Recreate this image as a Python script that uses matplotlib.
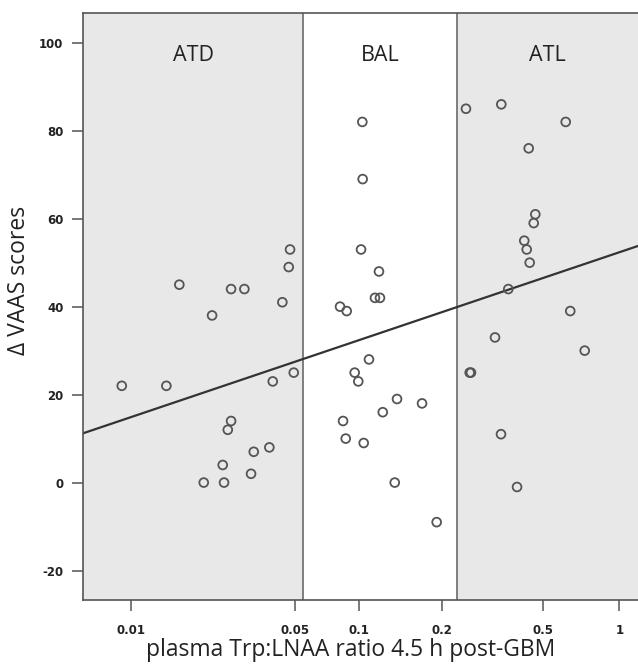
import numpy as np
import matplotlib
matplotlib.use("Agg")
import matplotlib.pyplot as plt
from matplotlib.ticker import FixedLocator, FixedFormatter, NullLocator

# Scatter of delta VAAS scores against plasma Trp:LNAA ratio (SPSS style figure)
plt.rcParams["axes.unicode_minus"] = False

# tick values on the x axis and their spacing on the original (non-uniform) log axis
tick_vals = [0.01, 0.05, 0.1, 0.2, 0.5, 1]
tick_labels = ["0.01", "0.05", "0.1", "0.2", "0.5", "1"]
tick_units = [131, 295, 359, 441.7, 543.3, 619.3]

y_ticks = [-20, 0, 20, 40, 60, 80, 100]

# group limits on the ratio axis
atd_upper = 0.0547
atl_lower = 0.229
group_names = ["ATD", "BAL", "ATL"]

# ATD group
atd_x = [0.00913, 0.01414, 0.01606, 0.02041, 0.02215, 0.02459, 0.02491, 0.02584,
         0.02669, 0.02669, 0.03041, 0.03247, 0.03334, 0.03886, 0.04018, 0.04415,
         0.04700, 0.04761, 0.04937]
atd_y = [22, 22, 45, 0, 38, 4, 0, 12, 14, 44, 44, 2, 7, 8, 23, 41, 49, 53, 25]

# BAL group
bal_x = [0.0814, 0.0841, 0.0866, 0.0875, 0.0954, 0.0992, 0.1017, 0.1028, 0.1031,
         0.1040, 0.1087, 0.1143, 0.1182, 0.1192, 0.1220, 0.1349, 0.1375, 0.1696,
         0.1917]
bal_y = [40, 14, 10, 39, 25, 23, 53, 82, 69, 9, 28, 42, 48, 42, 16, 0, 19, 18, -9]

# ATL group
atl_x = [0.2489, 0.2574, 0.2604, 0.3234, 0.3414, 0.3423, 0.3646, 0.3945, 0.4211,
         0.4305, 0.4383, 0.4422, 0.4585, 0.4652, 0.6133, 0.6394, 0.7295]
atl_y = [85, 25, 25, 33, 11, 86, 44, -1, 55, 53, 76, 50, 59, 61, 82, 39, 30]

# fitted regression line at the axis ends
x_range = [0.00624, 1.186]
fit_y = [11.2, 53.8]

t_log = np.log10(tick_vals)
t_pos = np.array(tick_units, dtype=float)
slope_lo = (t_pos[1] - t_pos[0]) / (t_log[1] - t_log[0])
slope_hi = (t_pos[-1] - t_pos[-2]) / (t_log[-1] - t_log[-2])


def forward(x):
    lx = np.log10(np.clip(np.asarray(x, dtype=float), 1e-12, None))
    out = np.interp(lx, t_log, t_pos)
    out = np.where(lx < t_log[0], t_pos[0] + (lx - t_log[0]) * slope_lo, out)
    out = np.where(lx > t_log[-1], t_pos[-1] + (lx - t_log[-1]) * slope_hi, out)
    return out


def inverse(p):
    p = np.asarray(p, dtype=float)
    lx = np.interp(p, t_pos, t_log)
    lx = np.where(p < t_pos[0], t_log[0] + (p - t_pos[0]) / slope_lo, lx)
    lx = np.where(p > t_pos[-1], t_log[-1] + (p - t_pos[-1]) / slope_hi, lx)
    return 10 ** lx


fig = plt.figure(figsize=(6.38, 6.67), dpi=100)
ax = fig.add_axes([83 / 638, 1 - 600 / 667, 555 / 638, (600 - 13.3) / 667])
ax.set_xscale("function", functions=(forward, inverse))
ax.set_xlim(x_range)
ax.set_ylim(-26.7, 106.7)

grey = "#e8e8e8"
ax.axvspan(x_range[0], atd_upper, color=grey, lw=0, zorder=0)
ax.axvspan(atl_lower, x_range[1], color=grey, lw=0, zorder=0)
ax.axvline(atd_upper, color="#6a6a6a", lw=1.2, zorder=1)
ax.axvline(atl_lower, color="#6a6a6a", lw=1.2, zorder=1)

ax.plot(x_range, fit_y, color="#333333", lw=1.6, zorder=2)

for xs, ys in [(atd_x, atd_y), (bal_x, bal_y), (atl_x, atl_y)]:
    ax.scatter(xs, ys, s=40, facecolors="none", edgecolors="#555555",
               linewidths=1.3, zorder=3)

# group names centred in each band
bounds = [x_range[0], atd_upper, atl_lower, x_range[1]]
for i, name in enumerate(group_names):
    mid = inverse((forward(bounds[i]) + forward(bounds[i + 1])) / 2)
    ax.text(mid, 97.2, name, ha="center", va="center", fontsize=15.5,
            family="Open Sans", color="#222222")

ax.xaxis.set_major_locator(FixedLocator(tick_vals))
ax.xaxis.set_major_formatter(FixedFormatter(tick_labels))
ax.xaxis.set_minor_locator(NullLocator())
ax.set_yticks(y_ticks)

for lab in ax.get_xticklabels() + ax.get_yticklabels():
    lab.set_fontweight("bold")
ax.tick_params(axis="both", labelsize=8.5, length=8, width=1.1, color="#555555",
               labelcolor="#222222")
ax.tick_params(axis="x", pad=9)
ax.tick_params(axis="y", pad=6)

for side in ["left", "bottom", "top", "right"]:
    ax.spines[side].set_color("#555555")
    ax.spines[side].set_linewidth(1.2)
ax.spines["right"].set_visible(False)

ax.set_xlabel("plasma Trp:LNAA ratio 4.5 h post-GBM", fontsize=16.5,
              family="Open Sans", color="#222222")
ax.set_ylabel("\u0394 VAAS scores", fontsize=16.5, family="Open Sans",
              color="#222222")
ax.xaxis.set_label_coords(0.482, -0.064)
ax.yaxis.set_label_coords(-0.094, 0.545)

fig.savefig("out.png", dpi=100)
